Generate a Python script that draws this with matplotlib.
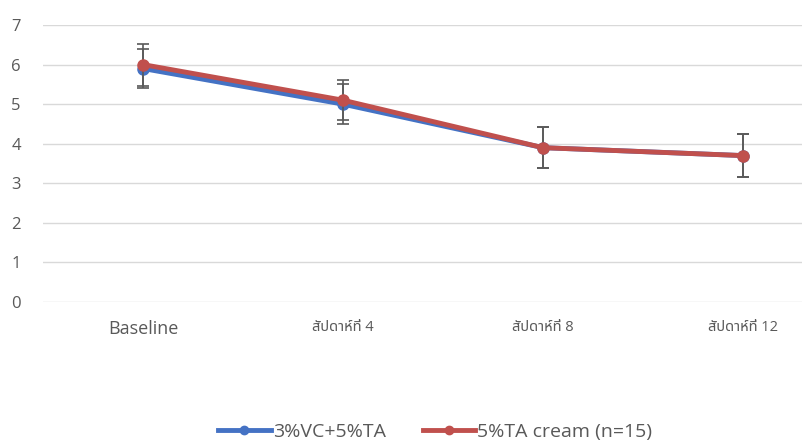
import matplotlib.pyplot as plt
from matplotlib.lines import Line2D
import numpy as np

# categories (x axis) and series values
weeks = ['Baseline', 'สัปดาห์ที่ 4', 'สัปดาห์ที่ 8', 'สัปดาห์ที่ 12']
vc_ta = [5.9, 5.0, 3.9, 3.7]
vc_ta_err = [0.5, 0.5, 0.52, 0.54]
ta_cream = [6.0, 5.1, 3.9, 3.7]
ta_cream_err = [0.53, 0.5, 0.52, 0.54]
series_names = ['3%VC+5%TA', '5%TA cream (n=15)']

plt.rcParams['font.family'] = ['Open Sans', 'Noto Sans Thai', 'DejaVu Sans']

BLUE = '#4472C4'
RED = '#C0504D'
GREY = '#595959'

fig = plt.figure(figsize=(8.02, 4.45), dpi=100)
ax = fig.add_axes([43 / 802, 143 / 445, 800 / 802, 277 / 445])

x = np.arange(len(weeks))
ax.errorbar(x, vc_ta, yerr=vc_ta_err, color=BLUE, lw=3.5, marker='o',
            ms=8, ecolor=GREY, elinewidth=1.2, capsize=4.3, capthick=1.2, zorder=3)
ax.errorbar(x, ta_cream, yerr=ta_cream_err, color=RED, lw=3.5, marker='o',
            ms=8, ecolor=GREY, elinewidth=1.2, capsize=4.3, capthick=1.2, zorder=4)

ax.set_xlim(-0.5, 3.5)
ax.set_ylim(0, 7)
ax.set_yticks(range(0, 8))
ax.set_xticks(x)
ax.set_xticklabels(weeks)

ax.grid(axis='y', color='#D9D9D9', lw=1)
ax.set_axisbelow(True)
for s in ax.spines.values():
    s.set_visible(False)
ax.tick_params(length=0, colors=GREY, labelsize=12)
ax.tick_params(axis='x', pad=13)
ax.tick_params(axis='y', pad=16)
# the Thai week labels are drawn smaller than "Baseline"
for i, lab in enumerate(ax.get_xticklabels()):
    lab.set_fontsize(13 if i == 0 else 10.5)

handles = [Line2D([], [], color=BLUE, lw=3.5, marker='o', ms=6),
           Line2D([], [], color=RED, lw=3.5, marker='o', ms=6)]
fig.legend(handles, series_names, loc='center', bbox_to_anchor=(0.5425, 1 - 432 / 445),
           ncol=2, frameon=False, fontsize=14, handlelength=2.7,
           columnspacing=1.9, handletextpad=0.1, labelcolor=GREY)

fig.savefig('out.png', dpi=100)
